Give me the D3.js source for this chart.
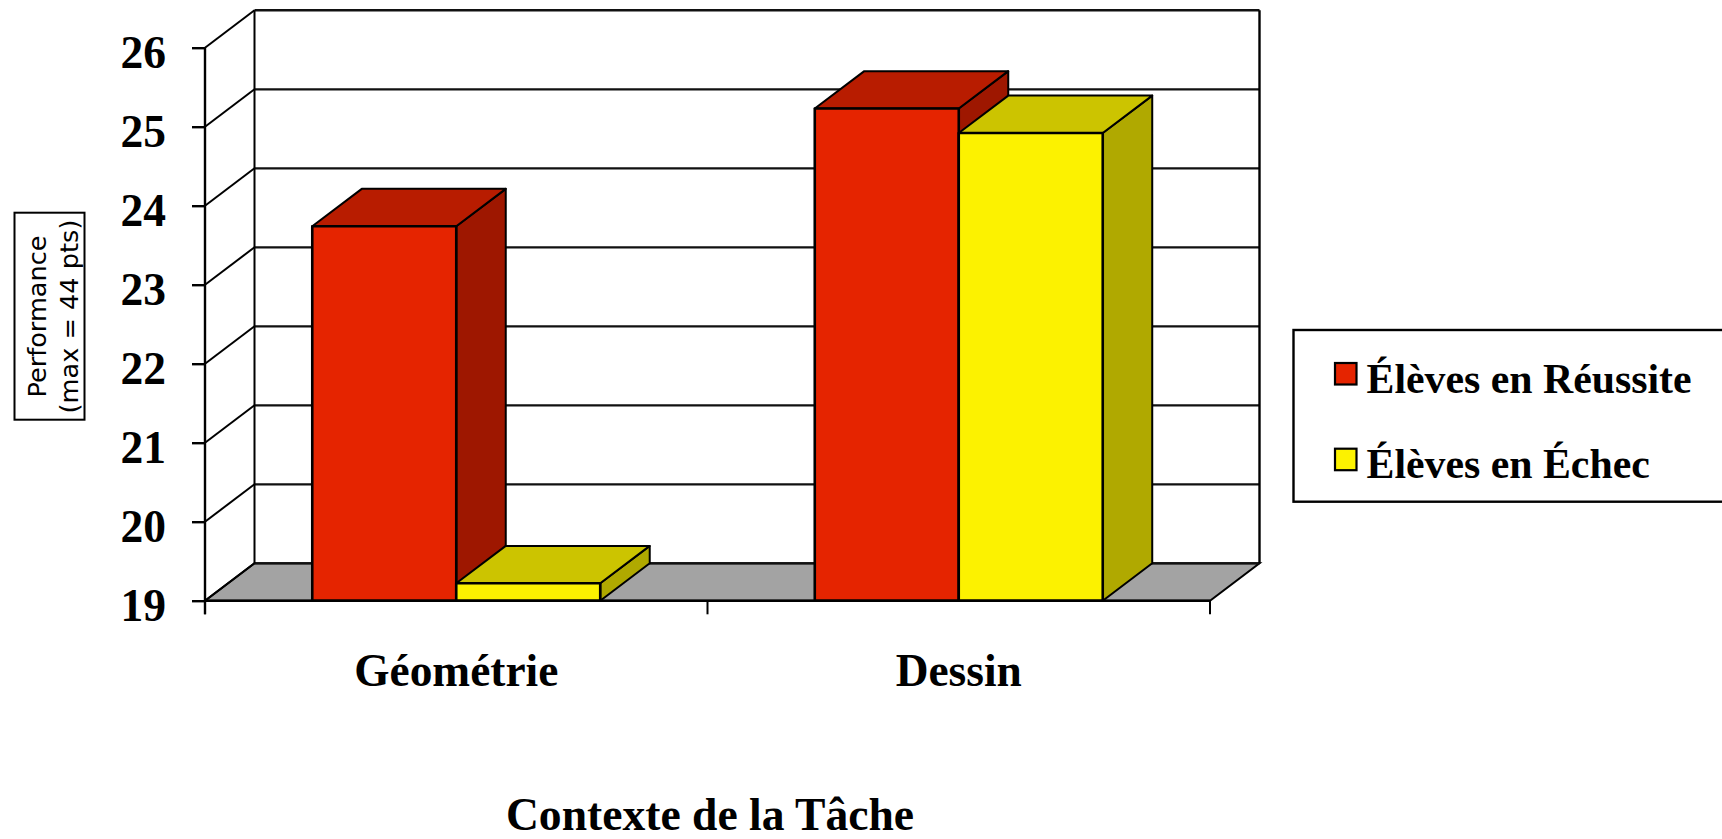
<!DOCTYPE html>
<html><head><meta charset="utf-8">
<script src="https://cdn.jsdelivr.net/npm/d3@7/dist/d3.min.js"></script>
<style>html,body{margin:0;padding:0;background:#fff;overflow:hidden}svg{display:block}
text{fill:#000}</style></head><body><svg id="c" width="1722" height="839"></svg>
<script>
const categories = ["Géométrie", "Dessin"];
const seriesNames = ["Élèves en Réussite", "Élèves en Échec"];
const reussite = [23.74, 25.23];
const echec = [19.22, 24.92];
const yTicks = [19, 20, 21, 22, 23, 24, 25, 26];
const xTitle = "Contexte de la Tâche";
const yTitle = ["Performance", "(max = 44 pts)"];
const faceColors = ["#E52400", "#FCF200"];
const topColors = ["#B81C00", "#CCC400"];
const sideColors = ["#9E1700", "#B0A900"];

const serif = "'Liberation Serif', serif";
const svg = d3.select("#c");
const dx = 49.5, dy = 37.4;
const x0 = d3.scaleBand().domain(categories).range([205, 1210]);
const x1 = d3.scaleBand().domain(d3.range(seriesNames.length)).range([0, x0.bandwidth()]).paddingInner(0).paddingOuter(0.745);
const y = d3.scaleLinear().domain([19, 26]).range([600.7, 47.7]);
const y0 = y(19);
const pts = p => p.map(d => d.join(",")).join(" ");
const line = (g, a, b, c, sw) => g.append("line").attr("x1", a[0]).attr("y1", a[1]).attr("x2", b[0]).attr("y2", b[1]).attr("stroke", c || "#000").attr("stroke-width", sw || 2);

// wall grid + floor
const wall = svg.append("g");
const xL = x0.range()[0], xR = x0.range()[1];
wall.append("polygon").attr("points", pts([[xL, y0], [xR, y0], [xR + dx, y0 - dy], [xL + dx, y0 - dy]]))
  .attr("fill", "#A3A3A3").attr("stroke", "#000").attr("stroke-width", 2);
yTicks.forEach(v => {
  line(wall, [xL, y(v)], [xL + dx, y(v) - dy]);
  line(wall, [xL + dx, y(v) - dy], [xR + dx, y(v) - dy], "#111", v === 26 ? 2.6 : 2.2);
});
line(wall, [xL + dx, y(26) - dy], [xL + dx, y0 - dy]);
line(wall, [xR + dx, y(26) - dy], [xR + dx, y0 - dy], "#000", 2.4);

// bars
const data = [reussite, echec];
const barsG = svg.append("g");
categories.forEach((c, ci) => {
  data.forEach((vals, si) => {
    const bx = x0(c) + x1(si), w = x1.bandwidth(), t = y(vals[ci]);
    const g = barsG.append("g").attr("stroke", "#000").attr("stroke-linejoin", "round");
    g.append("polygon").attr("points", pts([[bx + w, y0], [bx + w + dx, y0 - dy], [bx + w + dx, t - dy], [bx + w, t]]))
      .attr("fill", sideColors[si]).attr("stroke-width", 2);
    g.append("polygon").attr("points", pts([[bx, t], [bx + dx, t - dy], [bx + w + dx, t - dy], [bx + w, t]]))
      .attr("fill", topColors[si]).attr("stroke-width", 2);
    g.append("rect").attr("x", bx).attr("y", t).attr("width", w).attr("height", y0 - t)
      .attr("fill", faceColors[si]).attr("stroke-width", 2.6);
  });
});

// axes
const yAxis = svg.append("g").attr("transform", `translate(${xL},0)`)
  .call(d3.axisLeft(y).tickValues(yTicks).tickFormat(d3.format("d")).tickSize(13).tickPadding(26));
yAxis.select(".domain").remove();
yAxis.selectAll("line").attr("stroke", "#000").attr("stroke-width", 2.4);
yAxis.selectAll("text").attr("font-family", serif).attr("font-weight", "bold").attr("font-size", 45.5)
  .attr("dy", 20).attr("fill", "#000");
line(svg, [xL, y(26)], [xL, 614.3], "#000", 2.4);
line(svg, [xL, y0], [xR, y0], "#000", 2.4);

const xAxis = svg.append("g").attr("transform", `translate(0,${y0})`)
  .call(d3.axisBottom(x0).tickSize(0).tickPadding(0));
xAxis.select(".domain").remove();
xAxis.selectAll("line").remove();
xAxis.selectAll("text").attr("font-family", serif).attr("font-weight", "bold").attr("font-size", 45.4)
  .attr("y", 85).attr("dy", 0).attr("fill", "#000");
[xL, (xL + xR) / 2, xR].forEach(tx => line(svg, [tx, y0], [tx, 614.3], "#000", 2));

svg.append("text").attr("x", 710).attr("y", 830).attr("text-anchor", "middle")
  .attr("font-family", serif).attr("font-weight", "bold").attr("font-size", 45.6).text(xTitle);

// y title box
svg.append("rect").attr("x", 14.5).attr("y", 212.7).attr("width", 70).attr("height", 207)
  .attr("fill", "#fff").attr("stroke", "#000").attr("stroke-width", 2);
yTitle.forEach((s, i) => svg.append("text")
  .attr("transform", `translate(${45.5 + i * 32},316.5) rotate(-90)`)
  .attr("text-anchor", "middle").attr("font-family", "'DejaVu Sans', sans-serif").attr("font-size", 25.6).text(s));

// legend
svg.append("rect").attr("x", 1293.5).attr("y", 330).attr("width", 440).attr("height", 171.7)
  .attr("fill", "#fff").attr("stroke", "#000").attr("stroke-width", 2.4);
const legendY = d3.scalePoint().domain(seriesNames).range([362, 447.7]);
seriesNames.forEach((s, i) => {
  svg.append("rect").attr("x", 1335).attr("y", legendY(s) + 1).attr("width", 21.5).attr("height", 21.5)
    .attr("fill", faceColors[i]).attr("stroke", "#000").attr("stroke-width", 2.2);
  svg.append("text").attr("x", 1366.5).attr("y", legendY(s) + 30.5)
    .attr("font-family", serif).attr("font-weight", "bold").attr("font-size", 41.8).text(s);
});
</script></body></html>
